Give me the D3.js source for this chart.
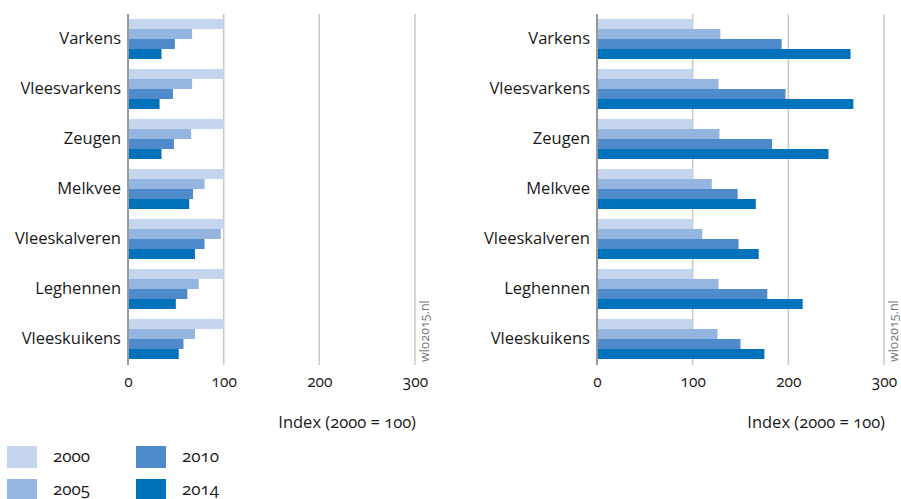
<!DOCTYPE html>
<html>
<head>
<meta charset="utf-8">
<script src="https://cdn.jsdelivr.net/npm/d3@7"></script>
<style>
  body { margin: 0; background: #fff; }
  svg text { font-family: "Open Sans", "Noto Sans", sans-serif; font-variant-numeric: oldstyle-nums; fill: #1a1a1a; }
</style>
</head>
<body>
<svg id="chart" width="901" height="499"></svg>
<script>
var categories = ["Varkens", "Vleesvarkens", "Zeugen", "Melkvee", "Vleeskalveren", "Leghennen", "Vleeskuikens"];
var years = ["2000", "2005", "2010", "2014"];
var colors = ["#c5d5ee", "#94b5e0", "#4f8bca", "#0071bb"];
var ticks = [0, 100, 200, 300];

// left panel, index per year (2000 = 100)
var left2000 = [100, 100, 100, 100, 100, 100, 100];
var left2005 = [67, 67, 66, 80, 97, 74, 70];
var left2010 = [49, 47, 48, 68, 80, 62, 58];
var left2014 = [35, 33, 35, 64, 70, 50, 53];

// right panel
var right2000 = [100, 100, 100, 100, 100, 100, 100];
var right2005 = [129, 127, 128, 120, 110, 127, 126];
var right2010 = [193, 197, 183, 147, 148, 178, 150];
var right2014 = [265, 268, 242, 166, 169, 215, 175];

var svg = d3.select("#chart");

function drawPanel(x0, series) {
    var x = d3.scaleLinear().domain([0, 300]).range([x0, x0 + 287]);
    var y = d3.scaleBand().domain(categories).range([14, 364]).paddingInner(0.2).paddingOuter(0.1);
    var y1 = d3.scaleBand().domain(years).range([0, y.bandwidth()]);

    var g = svg.append("g");

    // gridlines
    g.selectAll(".grid")
        .data(ticks.slice(1))
        .enter().append("line")
        .attr("x1", d => x(d)).attr("x2", d => x(d))
        .attr("y1", 14).attr("y2", 365)
        .attr("stroke", "#c8c8c8").attr("stroke-width", 1.5);

    var rows = [];
    categories.forEach(function(c, i) {
        years.forEach(function(yr, j) {
            rows.push({cat: c, year: yr, value: series[j][i], color: colors[j]});
        });
    });

    g.selectAll(".bar")
        .data(rows)
        .enter().append("rect")
        .attr("x", x(0))
        .attr("y", d => y(d.cat) + y1(d.year))
        .attr("height", y1.bandwidth())
        .attr("width", d => x(d.value) - x(0))
        .attr("fill", d => d.color);

    // zero axis line
    g.append("line")
        .attr("x1", x(0)).attr("x2", x(0))
        .attr("y1", 14).attr("y2", 365)
        .attr("stroke", "#999").attr("stroke-width", 2);

    // category labels
    var yAxis = d3.axisLeft(y).tickSize(0).tickPadding(0);
    g.append("g")
        .attr("transform", "translate(" + (x(0) - 7) + ",0)")
        .call(yAxis)
        .call(a => a.select(".domain").remove())
        .selectAll("text")
        .style("font-size", "16.5px");

    // value axis labels
    var xAxis = d3.axisBottom(x).tickValues(ticks).tickSize(0).tickPadding(0);
    g.append("g")
        .attr("transform", "translate(0,376)")
        .call(xAxis)
        .call(a => a.select(".domain").remove())
        .selectAll("text")
        .style("font-size", "15.5px");

    g.append("text")
        .attr("x", x(300) + 1)
        .attr("y", 428)
        .attr("text-anchor", "end")
        .style("font-size", "16.5px")
        .text("Index (2000 = 100)");

    g.append("text")
        .attr("transform", "translate(" + (x(300) + 13.5) + ",362) rotate(-90)")
        .style("font-size", "12.5px")
        .style("fill", "#777")
        .text("wlo2015.nl");
}

drawPanel(128, [left2000, left2005, left2010, left2014]);
drawPanel(597, [right2000, right2005, right2010, right2014]);

// legend
var legend = svg.append("g").selectAll("g")
    .data(years)
    .enter().append("g")
    .attr("transform", (d, i) => "translate(" + (7 + Math.floor(i / 2) * 129) + "," + (446 + (i % 2) * 33) + ")");

legend.append("rect")
    .attr("width", 30).attr("height", 22)
    .attr("fill", (d, i) => colors[i]);

legend.append("text")
    .attr("x", 46).attr("y", 16)
    .style("font-size", "17px")
    .text(d => d);
</script>
</body>
</html>
